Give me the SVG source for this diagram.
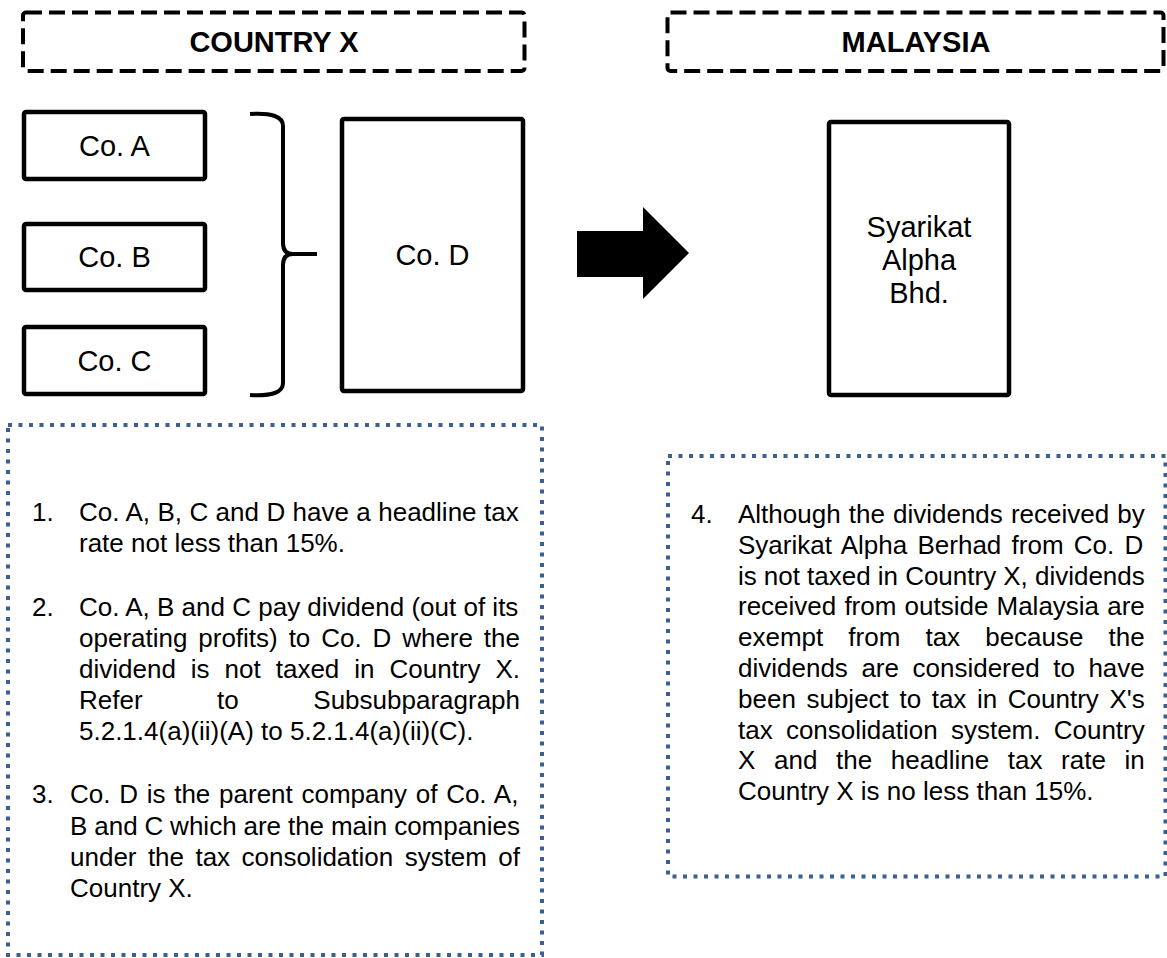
<svg xmlns="http://www.w3.org/2000/svg" width="1167" height="958" viewBox="0 0 1167 958">
<style>
.hdr{fill:none;stroke:#000;stroke-width:4;stroke-dasharray:16 7}
.hdrt{font-family:"Liberation Sans",Arial,sans-serif;font-weight:bold;font-size:29px;fill:#000;text-anchor:middle}
.box{fill:#fff;stroke:#000;stroke-width:4.5}
.lbl{font-family:"Liberation Sans",Arial,sans-serif;font-size:29px;fill:#000;text-anchor:middle}
.note{fill:none;stroke:#3B5F8F;stroke-width:4;stroke-dasharray:4 6.5}
.p{font-family:"Liberation Sans",Arial,sans-serif;font-size:26px;fill:#000}
.brace{fill:none;stroke:#000;stroke-width:4;stroke-linecap:butt}
</style>
<rect width="1167" height="958" fill="#fff"/>
<g id="header-country-x">
<rect class="hdr" x="23" y="12.5" width="501.5" height="58.5" rx="3"/>
<text class="hdrt" x="274" y="52">COUNTRY X</text>
</g>
<g id="header-malaysia">
<rect class="hdr" x="667.5" y="12.5" width="496" height="58.5" rx="3"/>
<text class="hdrt" x="916" y="52">MALAYSIA</text>
</g>
<g id="co-a">
<rect class="box" x="24" y="112" width="181" height="67" rx="2"/>
<text class="lbl" x="114.5" y="156">Co. A</text>
</g>
<g id="co-b">
<rect class="box" x="24" y="224" width="181" height="66" rx="2"/>
<text class="lbl" x="114.5" y="267">Co. B</text>
</g>
<g id="co-c">
<rect class="box" x="24" y="327" width="181" height="67" rx="2"/>
<text class="lbl" x="114.5" y="371">Co. C</text>
</g>
<g id="co-d">
<rect class="box" x="342" y="119" width="181" height="272" rx="2"/>
<text class="lbl" x="432.5" y="265">Co. D</text>
</g>
<g id="syarikat-alpha">
<rect class="box" x="829" y="122" width="180" height="273" rx="2"/>
<text class="lbl" x="919" y="237">Syarikat</text>
<text class="lbl" x="919" y="270">Alpha</text>
<text class="lbl" x="919" y="303">Bhd.</text>
</g>
<g id="connectors">
<path class="brace" d="M250 114 Q283 112 283 126 L283 243 Q283 254 293 254 L317 254 M293 254 Q283 254 283 265 L283 383 Q283 397 250 395"/>
<polygon points="577,231 643,231 643,207 689,253 643,299 643,277 577,277" fill="#000"/>
</g>
<g id="note-country-x">
<rect class="note" x="8" y="425" width="534" height="530"/>
<text class="p" x="32" y="521">1.</text>
<text class="p" x="79" y="521" style="word-spacing:0.19px">Co. A, B, C and D have a headline tax</text>
<text class="p" x="79" y="552">rate not less than 15%.</text>
<text class="p" x="32" y="616">2.</text>
<text class="p" x="79" y="616">Co. A, B and C pay dividend (out of its</text>
<text class="p" x="79" y="647" style="word-spacing:3.65px">operating profits) to Co. D where the</text>
<text class="p" x="79" y="678" style="word-spacing:7.75px">dividend is not taxed in Country X.</text>
<text class="p" x="79" y="709" style="word-spacing:67.3px">Refer to Subsubparagraph</text>
<text class="p" x="79" y="740">5.2.1.4(a)(ii)(A) to 5.2.1.4(a)(ii)(C).</text>
<text class="p" x="32" y="803">3.</text>
<text class="p" x="70" y="803" style="word-spacing:1.5px">Co. D is the parent company of Co. A,</text>
<text class="p" x="70" y="835" style="word-spacing:-0.35px">B and C which are the main companies</text>
<text class="p" x="70" y="866" style="word-spacing:4.16px">under the tax consolidation system of</text>
<text class="p" x="70" y="897">Country X.</text>
</g>
<g id="note-malaysia">
<rect class="note" x="668" y="456" width="497.5" height="420.5"/>
<text class="p" x="691" y="523">4.</text>
<text class="p" x="738" y="523" style="word-spacing:0.87px">Although the dividends received by</text>
<text class="p" x="738" y="554" style="word-spacing:3.02px">Syarikat Alpha Berhad from Co. D</text>
<text class="p" x="738" y="585" style="word-spacing:-0.13px">is not taxed in Country X, dividends</text>
<text class="p" x="738" y="615" style="word-spacing:0.9px">received from outside Malaysia are</text>
<text class="p" x="738" y="646" style="word-spacing:17.85px">exempt from tax because the</text>
<text class="p" x="738" y="677" style="word-spacing:6.3px">dividends are considered to have</text>
<text class="p" x="738" y="708" style="word-spacing:3.37px">been subject to tax in Country X's</text>
<text class="p" x="738" y="739" style="word-spacing:6.0px">tax consolidation system. Country</text>
<text class="p" x="738" y="769" style="word-spacing:11.42px">X and the headline tax rate in</text>
<text class="p" x="738" y="800">Country X is no less than 15%.</text>
</g>
</svg>
